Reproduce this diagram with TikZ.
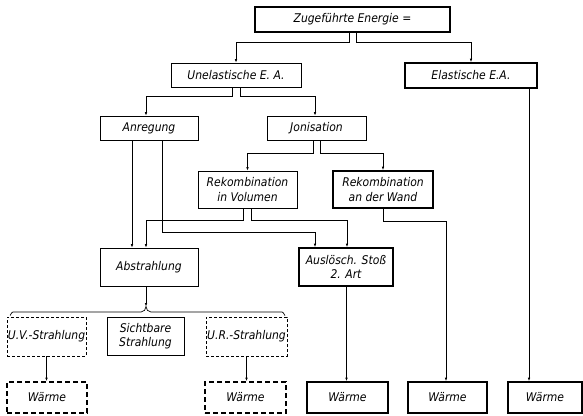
\documentclass[tikz,border=0pt]{standalone}
\usepackage{fontspec}
\setmainfont{DejaVu Sans Condensed}
\usetikzlibrary{arrows.meta}
\tikzset{
  box/.style={draw, line width=0.7pt, inner sep=0pt, align=center,
    font=\fontsize{12}{14.5}\selectfont\itshape},
  thickbox/.style={box, line width=1.6pt},
  dbox/.style={box, dash pattern=on 3pt off 2pt},
  tdbox/.style={box, line width=1.6pt, dash pattern=on 5pt off 3pt},
  arr/.style={line width=0.7pt, -{Latex[length=3.5pt,width=2.6pt]}},
  ln/.style={line width=0.7pt}
}
\begin{document}
\begin{tikzpicture}[x=1pt,y=-1pt]
\useasboundingbox (0,0) rectangle (583,415);
% nodes
\node[thickbox, minimum width=195, minimum height=25] (ze) at (352.5,19.5) {Zugeführte Energie =};
\node[box, minimum width=130, minimum height=24] (ue) at (236,75) {Unelastische E. A.};
\node[thickbox, minimum width=132, minimum height=25] (ee) at (471,75.5) {Elastische E.A.};
\node[box, minimum width=98, minimum height=24] (an) at (149,128) {Anregung};
\node[box, minimum width=99, minimum height=24] (jo) at (316.5,128) {Jonisation};
\node[box, minimum width=99, minimum height=37] (rv) at (247.5,189.5) {Rekombination\\in Volumen};
\node[thickbox, minimum width=100, minimum height=37] (rw) at (383,189.5) {Rekombination\\an der Wand};
\node[box, minimum width=98, minimum height=38] (ab) at (149,267) {Abstrahlung};
\node[thickbox, minimum width=94, minimum height=38] (au) at (346,267) {Auslösch. Stoß\\2. Art};
\node[dbox, minimum width=79, minimum height=39] (uv) at (46.5,336.5) {U.V.-Strahlung};
\node[box, minimum width=77, minimum height=38] (sb) at (145.5,336) {Sichtbare\\Strahlung};
\node[dbox, minimum width=81, minimum height=39] (ur) at (246.5,336.5) {U.R.-Strahlung};
\node[tdbox, minimum width=80, minimum height=31] (w1) at (47,397.5) {Wärme};
\node[tdbox, minimum width=81, minimum height=31] (w2) at (245.5,397.5) {Wärme};
\node[thickbox, minimum width=81, minimum height=31] (w3) at (347.5,397.5) {Wärme};
\node[thickbox, minimum width=79, minimum height=31] (w4) at (447.5,397.5) {Wärme};
\node[thickbox, minimum width=74, minimum height=31] (w5) at (545,397.5) {Wärme};
% connectors
\draw[arr] ([xshift=-3.5]ze.south) -- ++(0,10) -| (ue.north);
\draw[arr] ([xshift=3.5]ze.south) -- ++(0,10) -| (ee.north);
\draw[arr] ([xshift=-3.5]ue.south) -- ++(0,9) -| ([xshift=-3]an.north);
\draw[arr] ([xshift=4.5]ue.south) -- ++(0,9) -| ([xshift=-1.5]jo.north);
\draw[arr] ([xshift=-17]an.south) -- ([xshift=-17]ab.north);
\draw[arr] ([xshift=13]an.south) -- ++(0,92) -| ([xshift=-31]au.north);
\draw[arr] ([xshift=-3.5]jo.south) -- ++(0,13) -| (rv.north);
\draw[arr] ([xshift=3.5]jo.south) -- ++(0,13) -| (rw.north);
\draw[arr] ([xshift=-4.5]rv.south) -- ++(0,12) -| ([xshift=-3]ab.north);
\draw[arr] ([xshift=3.5]rv.south) -- ++(0,12) -| ([xshift=1]au.north);
\draw[arr] (rw.south) -- ++(0,13) -| ([xshift=-1.5]w4.north);
\coordinate (e5) at ([xshift=58]ee.south);
\draw[arr] (e5) -- (e5 |- w5.north);
\draw[arr] ([xshift=0.5]au.south) -- ([xshift=0.5]au.south |- w3.north);
% brace
\coordinate (bt) at (146,306.5);
\draw[arr] ([xshift=-3]ab.south) -- (bt);
\draw[ln] (10,315) to[out=-90,in=180] (13,312) -- (141,312) to[out=0,in=-90] (bt)
  to[out=-90,in=180] (151,312) -- (282,312) to[out=0,in=-90] (285,315);
\draw[arr] (uv.south) -- (uv.south |- w1.north);
\draw[arr] (ur.south) -- (ur.south |- w2.north);
\end{tikzpicture}
\end{document}
